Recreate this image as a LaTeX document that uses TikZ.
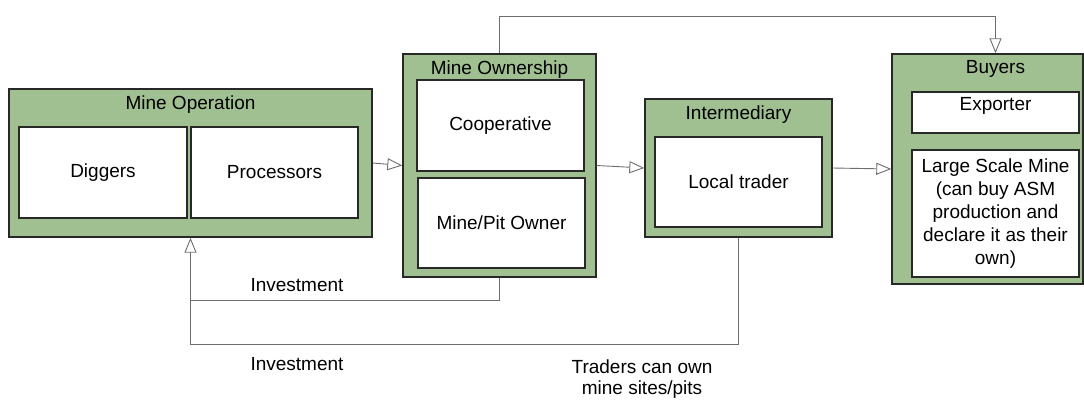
\documentclass[tikz,border=0pt]{standalone}
\usepackage{fontspec}
\setmainfont{Liberation Sans}
\usetikzlibrary{arrows.meta}

\begin{document}
\begin{tikzpicture}[x=1pt, y=-1pt, font=\fontsize{19}{23}\selectfont,
    groupbox/.style={draw=boxline, line width=1.4pt, fill=groupgreen},
    rolebox/.style={draw=boxline, line width=1.4pt, fill=white, minimum width=167pt, minimum height=91pt, align=center},
    flow/.style={draw=flowgray, line width=0.9pt, -{Triangle[open, length=15pt, width=12pt]}},
    link/.style={draw=flowgray, line width=0.9pt}]

      % Define colors
      \definecolor{groupgreen}{RGB}{160,192,146}
      \definecolor{boxline}{RGB}{40,40,40}
      \definecolor{flowgray}{RGB}{110,110,110}

      \useasboundingbox (0,0) rectangle (1084,399);

      % Mine operation group
      \node[groupbox, minimum width=363pt, minimum height=148pt] (MineOp) at (190.5,163) {};
      \node[below=4pt] (MineOpTitle) at (MineOp.north) {Mine Operation};
      \node[rolebox, minimum width=168pt] (Diggers) at (103,172.5) {Diggers};
      \node[rolebox] (Processors) at (274.5,172.5) {Processors};

      % Mine ownership group
      \node[groupbox, minimum width=193pt, minimum height=223pt] (MineOwn) at (499.5,165.5) {};
      \node[below=4pt] (MineOwnTitle) at (MineOwn.north) {Mine Ownership};
      \node[rolebox] (Coop) at (500.5,125.5) {Cooperative};
      \node[rolebox, minimum height=90pt] (PitOwner) at (501.5,223) {Mine/Pit Owner};

      % Intermediary group
      \node[groupbox, minimum width=187pt, minimum height=138pt] (Inter) at (738.5,168) {};
      \node[below=4pt] (InterTitle) at (Inter.north) {Intermediary};
      \node[rolebox, minimum height=90pt] (Trader) at (738.5,182) {Local trader};

      % Buyers group
      \node[groupbox, minimum width=191pt, minimum height=230pt] (Buyers) at (987.5,169) {};
      \node[below=4pt] (BuyersTitle) at ([xshift=8pt]Buyers.north) {Buyers};
      \node[rolebox, minimum height=41pt] (Exporter) at (995.5,112.5) {};
      \node[below=3pt] (ExporterText) at (Exporter.north) {Exporter};
      \node[rolebox, minimum height=127pt] (LSM) at (995.5,213.5) {Large Scale Mine\\(can buy ASM\\production and\\declare it as their\\own)};

      % Flow arrows
      \draw[flow] (MineOp.east) -- (MineOwn.west);
      \draw[flow] (MineOwn.east) -- (Inter.west);
      \draw[flow] (Inter.east) -- (Buyers.west);

      % Direct route to buyers
      \coordinate (TopBend) at (995.5,16);
      \draw[flow] (MineOwn.north) |- (TopBend) -- (Buyers.north -| TopBend);

      % Investment routes
      \coordinate (InvOwner) at (190.5,300);
      \coordinate (InvTrader) at (190.5,344);
      \draw[flow] (MineOwn.south) |- (InvOwner) -- (MineOp.south);
      \draw[link] (Inter.south) |- (InvTrader) -- (InvOwner);

      % Labels
      \node (InvLabelA) at (297,285) {Investment};
      \node (InvLabelB) at (297,364) {Investment};
      \node[align=center, font=\fontsize{19}{21}\selectfont] (TraderNote) at (642,379) {Traders can own\\mine sites/pits};

    \end{tikzpicture}
\end{document}
